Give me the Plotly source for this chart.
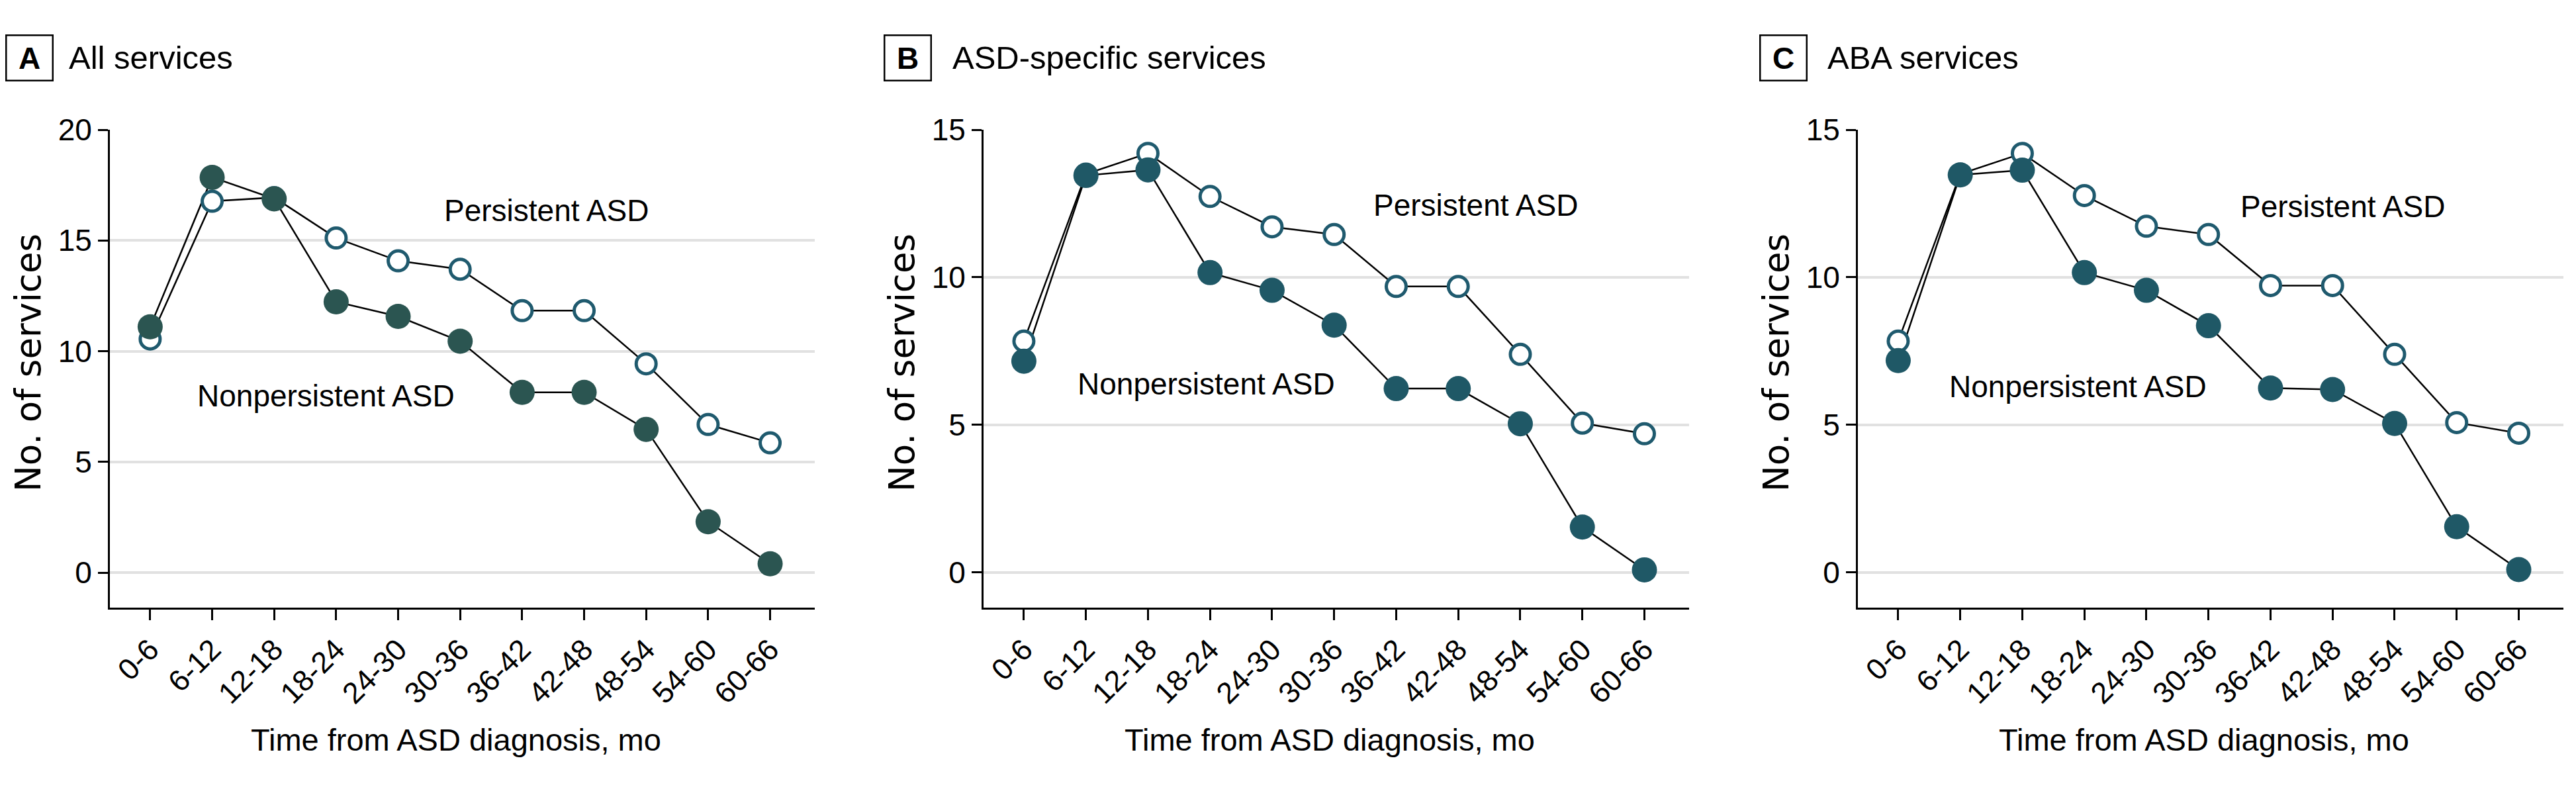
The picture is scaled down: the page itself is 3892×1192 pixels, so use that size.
import plotly.graph_objects as go

# ---------------- data ----------------
categories = ["0-6", "6-12", "12-18", "18-24", "24-30", "30-36",
              "36-42", "42-48", "48-54", "54-60", "60-66"]

all_persistent = [10.55, 16.77, 16.94, 15.11, 14.08, 13.70, 11.83, 11.83, 9.43, 6.69, 5.86]
all_nonpersistent = [11.10, 17.85, 16.88, 12.23, 11.57, 10.45, 8.14, 8.14, 6.47, 2.30, 0.40]

asd_persistent = [7.84, 13.50, 14.20, 12.74, 11.71, 11.45, 9.69, 9.69, 7.39, 5.06, 4.70]
asd_nonpersistent = [7.16, 13.45, 13.64, 10.16, 9.56, 8.38, 6.23, 6.23, 5.04, 1.54, 0.09]

aba_persistent = [7.84, 13.50, 14.20, 12.77, 11.73, 11.45, 9.72, 9.72, 7.39, 5.08, 4.72]
aba_nonpersistent = [7.18, 13.47, 13.63, 10.16, 9.56, 8.36, 6.25, 6.20, 5.05, 1.55, 0.10]

panel_letters = ["A", "B", "C"]
panel_titles = ["All services", "ASD-specific services", "ABA services"]
y_ticks = [[0, 5, 10, 15, 20], [0, 5, 10, 15], [0, 5, 10, 15]]
x_title = "Time from ASD diagnosis, mo"
y_title = "No. of services"
label_persistent = "Persistent ASD"
label_nonpersistent = "Nonpersistent ASD"

# ---------------- style / layout ----------------
W, H = 3892, 1192
OFF = 8  # page body margin
FONT = "Liberation Sans, Arial, sans-serif"
YT_FONT = "DejaVu Sans, Verdana, sans-serif"
OPEN_EDGE = "#1f5a6e"
FILLED = ["#2b5551", "#1f5866", "#1f5866"]
GRID = "#e1e1e1"

def fx(p):
    return (p - OFF) / W

def fy(p):
    return 1 - (p - OFF) / H

# pixel geometry of each panel: y-axis line x, right end x
panel_px = [(166, 1231), (1486, 2552), (2807, 3873)]
box_px = [8, 1335, 2658]
title_px = [102, 1437, 2759]
top_px, bot_px = 196, 918
y_ranges = [[-1.58, 20], [-1.19, 15], [-1.19, 15]]
x_range = [-0.65, 10.72]
lab_pos_p = [(6.39, 16.35), (7.28, 12.44), (7.16, 12.40)]
lab_pos_n = [(2.84, 7.98), (2.94, 6.40), (2.90, 6.30)]

series = [
    (all_persistent, all_nonpersistent),
    (asd_persistent, asd_nonpersistent),
    (aba_persistent, aba_nonpersistent),
]

fig = go.Figure()
annotations = []

for i, (pers, nonp) in enumerate(series):
    sfx = "" if i == 0 else str(i + 1)
    xa, ya = "x" + sfx, "y" + sfx
    # lines first (under the markers)
    for vals in (pers, nonp):
        fig.add_trace(go.Scatter(
            x=categories, y=vals, mode="lines", xaxis=xa, yaxis=ya,
            line=dict(color="black", width=2.5), showlegend=False,
            hoverinfo="skip"))
    # markers
    fig.add_trace(go.Scatter(
        x=categories, y=pers, mode="markers", xaxis=xa, yaxis=ya,
        marker=dict(size=30, color="white", line=dict(color=OPEN_EDGE, width=5)),
        showlegend=False, name=label_persistent))
    fig.add_trace(go.Scatter(
        x=categories, y=nonp, mode="markers", xaxis=xa, yaxis=ya,
        marker=dict(size=38, color=FILLED[i], line=dict(width=0)),
        showlegend=False, name=label_nonpersistent))

    x0, x1 = panel_px[i]
    fig.update_layout(**{
        "xaxis" + sfx: dict(
            domain=[fx(x0), fx(x1)], anchor=ya, type="category",
            range=x_range, showgrid=False, zeroline=False, automargin=False,
            showline=True, linecolor="black", linewidth=3,
            ticks="outside", ticklen=16, tickwidth=2.5, tickcolor="black",
            tickangle=-45, tickfont=dict(family=FONT, size=45, color="black"),
        ),
        "yaxis" + sfx: dict(
            domain=[fy(bot_px), fy(top_px)], anchor=xa, automargin=False,
            range=y_ranges[i], tickvals=y_ticks[i],
            showgrid=True, gridcolor=GRID, gridwidth=3.5, zeroline=False,
            showline=True, linecolor="black", linewidth=3,
            ticks="outside", ticklen=15, tickwidth=2.5, tickcolor="black",
            tickfont=dict(family=FONT, size=46, color="black"),
        ),
    })

    # panel letter box
    annotations.append(dict(
        xref="paper", yref="paper", x=fx(box_px[i]), y=fy(87),
        xanchor="left", yanchor="middle", text="<b>%s</b>" % panel_letters[i],
        showarrow=False, font=dict(family=FONT, size=46, color="black"),
        bordercolor="black", borderwidth=2.5, borderpad=0, width=68, height=66,
        align="center", valign="middle"))
    # panel title
    annotations.append(dict(
        xref="paper", yref="paper", x=fx(title_px[i]), y=fy(87),
        xanchor="left", yanchor="middle", text=panel_titles[i],
        showarrow=False, font=dict(family=FONT, size=49, color="black")))
    # y title
    annotations.append(dict(
        xref="paper", yref="paper", x=fx(x0 - 124), y=fy(548),
        xanchor="center", yanchor="middle", text=y_title, textangle=-90,
        showarrow=False, font=dict(family=YT_FONT, size=53, color="black")))
    # x title
    annotations.append(dict(
        xref="paper", yref="paper", x=fx((x0 + x1) / 2 - 10), y=fy(1117),
        xanchor="center", yanchor="middle", text=x_title,
        showarrow=False, font=dict(family=FONT, size=47, color="black")))
    # series labels
    annotations.append(dict(
        xref=xa, yref=ya, x=lab_pos_p[i][0], y=lab_pos_p[i][1],
        xanchor="center", yanchor="middle", text=label_persistent,
        showarrow=False, font=dict(family=FONT, size=46, color="black")))
    annotations.append(dict(
        xref=xa, yref=ya, x=lab_pos_n[i][0], y=lab_pos_n[i][1],
        xanchor="center", yanchor="middle", text=label_nonpersistent,
        showarrow=False, font=dict(family=FONT, size=46, color="black")))

fig.update_layout(
    width=W, height=H, margin=dict(l=0, r=0, t=0, b=0, pad=0, autoexpand=False),
    paper_bgcolor="white", plot_bgcolor="white",
    annotations=annotations, showlegend=False,
)

fig.write_html("out.html")
